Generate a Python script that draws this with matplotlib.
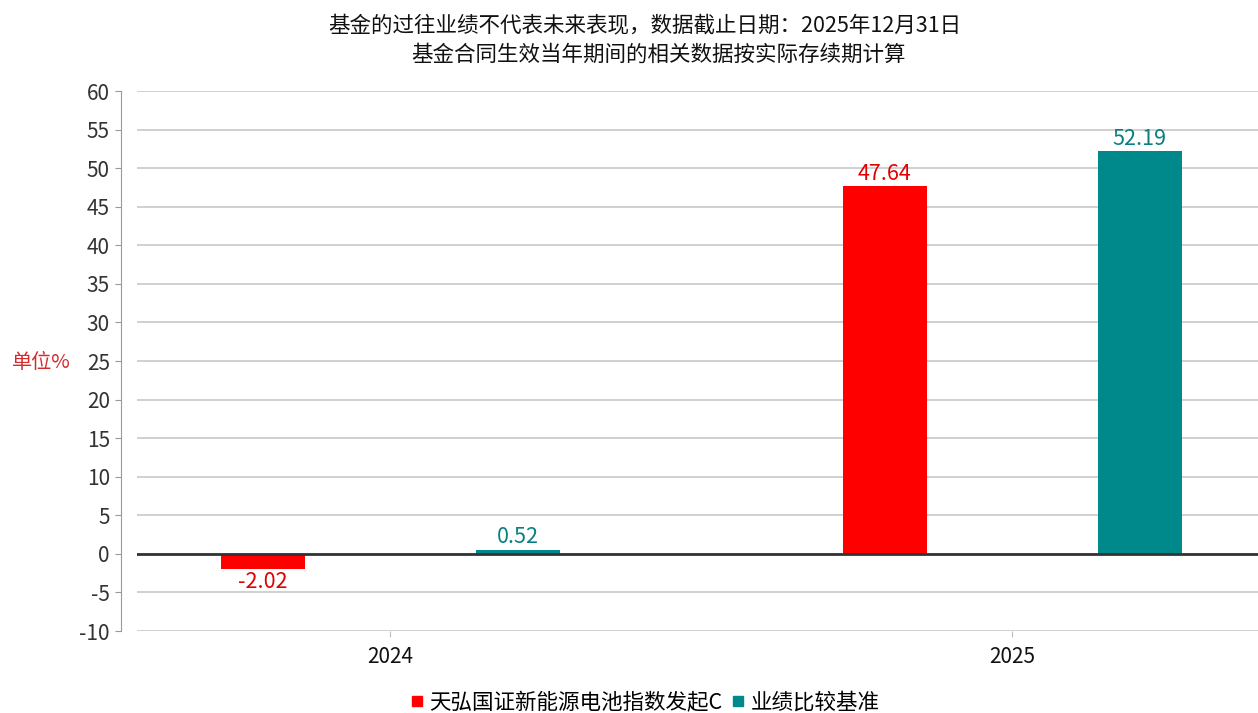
import matplotlib
matplotlib.use('Agg')
import matplotlib.pyplot as plt
from matplotlib.lines import Line2D
import numpy as np

plt.rcParams['font.family'] = ['Noto Sans CJK SC', 'DejaVu Sans']
plt.rcParams['axes.unicode_minus'] = False

years = ['2024', '2025']
fund_name = '天弘国证新能源电池指数发起C'
bench_name = '业绩比较基准'
fund_vals = [-2.02, 47.64]
bench_vals = [0.52, 52.19]
y_ticks = list(range(-10, 61, 5))

red = '#FF0000'
teal = '#00898A'

fig = plt.figure(figsize=(12.58, 7.13), dpi=100)
ax = fig.add_axes([137 / 1258, 82 / 713, 1121 / 1258, 540 / 713])

x = np.arange(len(years))
w = 0.135
off = 0.205
b1 = ax.bar(x - off, fund_vals, w, color=red, zorder=3)
b2 = ax.bar(x + off, bench_vals, w, color=teal, zorder=3)

# value labels above (or below) each bar
for bars, vals, c in [(b1, fund_vals, '#E00000'), (b2, bench_vals, '#0A7F80')]:
    for r, v in zip(bars, vals):
        cx = r.get_x() + r.get_width() / 2
        if v >= 0:
            ax.annotate('%.2f' % v, (cx, v), xytext=(0, 1), textcoords='offset points',
                        ha='center', va='bottom', fontsize=15.5, color=c)
        else:
            ax.annotate('%.2f' % v, (cx, v), xytext=(0, -1), textcoords='offset points',
                        ha='center', va='top', fontsize=15.5, color=c)

ax.axhline(0, color='#333333', lw=2, zorder=4)

ax.set_ylim(-10, 60)
ax.set_yticks(y_ticks)
ax.set_xlim(-0.407, 1.395)
ax.set_xticks(x)
ax.set_xticklabels(years)
ax.yaxis.grid(True, color='#C8C8C8', lw=1.2, zorder=0)
ax.set_axisbelow(True)

for s in ['top', 'right', 'bottom']:
    ax.spines[s].set_visible(False)
ax.spines['left'].set_position(('outward', 11.5))
ax.spines['left'].set_color('#999999')
ax.tick_params(axis='y', colors='#999999', labelcolor='#333333', labelsize=15, length=4, pad=4)
ax.tick_params(axis='x', colors='#BBBBBB', labelcolor='#111111', labelsize=15, length=4, pad=7)

fig.text(645 / 1258, 1 - 25 / 713, '基金的过往业绩不代表未来表现，数据截止日期：2025年12月31日',
         ha='center', va='center', fontsize=15.5, color='#111111')
fig.text(658 / 1258, 1 - 55 / 713, '基金合同生效当年期间的相关数据按实际存续期计算',
         ha='center', va='center', fontsize=15.5, color='#111111')
fig.text(41 / 1258, 1 - 362 / 713, '单位%', ha='center', va='center', fontsize=14.5, color='#D42A2A')

handles = [Line2D([], [], ls='none', marker='s', markersize=7, color=red),
           Line2D([], [], ls='none', marker='s', markersize=7, color=teal)]
fig.legend(handles, [fund_name, bench_name], loc='center', bbox_to_anchor=(645 / 1258, 1 - 703 / 713),
           ncol=2, frameon=False, fontsize=15.5, handlelength=0.6, handletextpad=0.3,
           columnspacing=0.4, borderpad=0)

plt.savefig('out.png', dpi=100)
